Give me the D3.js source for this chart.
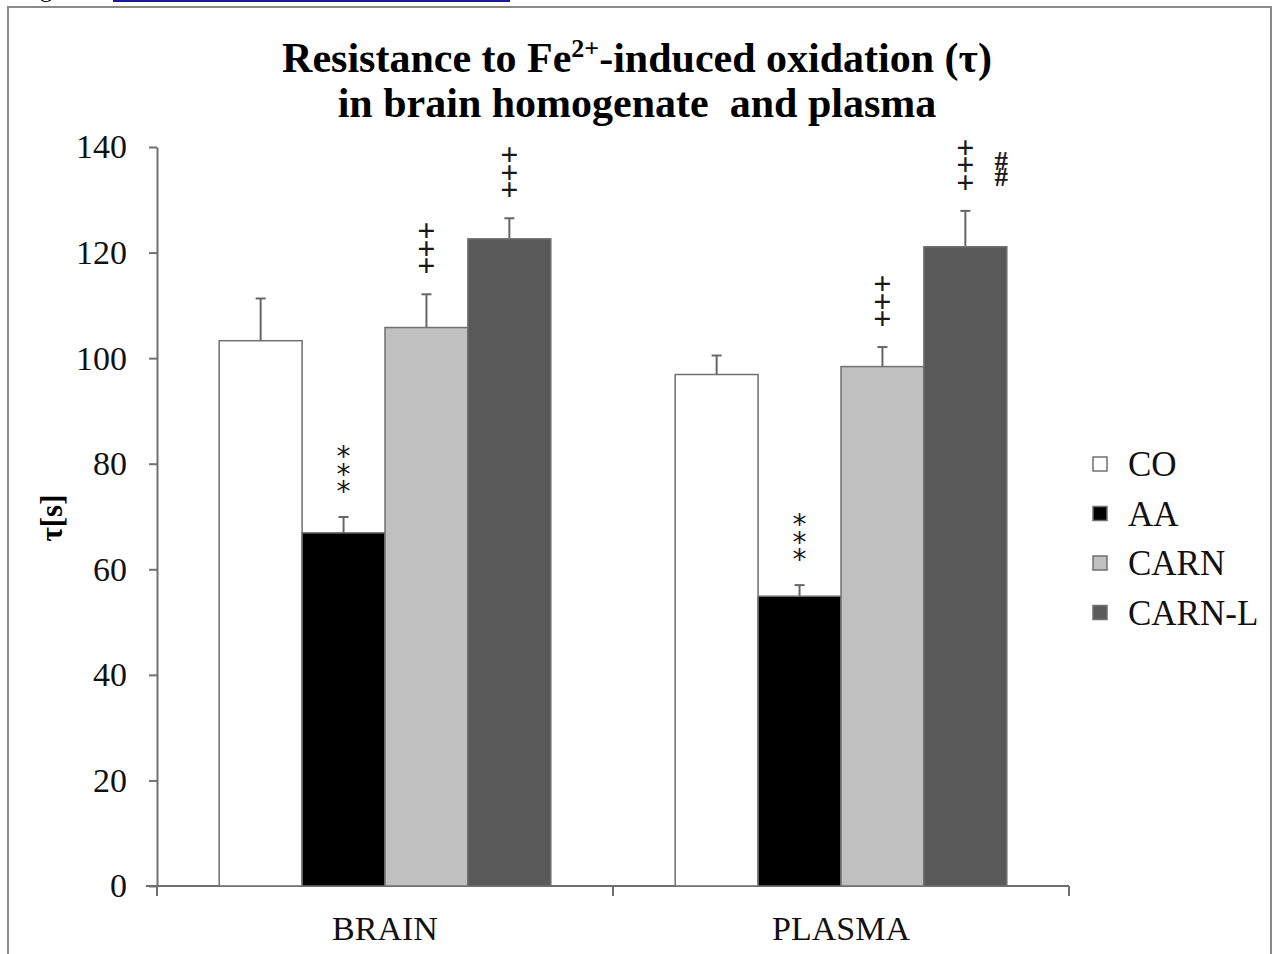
<!DOCTYPE html>
<html lang="en">
  <head>
    <meta charset="UTF-8" />
    <title>Resistance to Fe2+-induced oxidation</title>
    <script src="https://cdn.jsdelivr.net/npm/d3@7/dist/d3.min.js"></script>
    <style>
      html,
      body {
        margin: 0;
        padding: 0;
        background: #fff;
      }
      svg {
        display: block;
        font-family: 'Liberation Serif', 'Times New Roman', serif;
      }
    </style>
  </head>
  <body>
    <svg width="1275" height="954"></svg>
    <script>
      const categories = ['BRAIN', 'PLASMA'];
      const series = ['CO', 'AA', 'CARN', 'CARN-L'];
      const colors = ['#ffffff', '#000000', '#c0c0c0', '#595959'];

      // mean tau values, one array per category (CO, AA, CARN, CARN-L)
      const brainValues = [103.3, 66.9, 105.8, 122.6];
      const plasmaValues = [96.9, 54.9, 98.4, 121.1];
      const brainErrors = [8.0, 3.0, 6.3, 3.9];
      const plasmaErrors = [3.6, 2.1, 3.7, 6.8];

      // significance marks, each inner array is one vertical stack above a bar
      const brainMarks = [[], [['*', '*', '*']], [['+', '+', '+']], [['+', '+', '+']]];
      const plasmaMarks = [[], [['*', '*', '*']], [['+', '+', '+']], [['+', '+', '+'], ['#', '#']]];

      const yTicks = [0, 20, 40, 60, 80, 100, 120, 140];

      const svg = d3.select('svg');

      // outer frame and clipped caption link at top
      svg.append('rect')
        .attr('x', 8).attr('y', 7)
        .attr('width', 1263).attr('height', 960)
        .attr('fill', 'none')
        .attr('stroke', '#8a8a8a')
        .attr('stroke-width', 2);
      svg.append('text')
        .attr('x', 20).attr('y', -3)
        .attr('font-size', 24)
        .text('Fig');
      svg.append('line')
        .attr('x1', 113).attr('x2', 510)
        .attr('y1', 1).attr('y2', 1)
        .attr('stroke', '#1a1a9a')
        .attr('stroke-width', 2);

      const plotLeft = 157, plotRight = 1069, plotTop = 147, plotBottom = 886;

      const x0 = d3.scaleBand().domain(categories).range([plotLeft, plotRight]).padding(0);
      const x1 = d3.scaleBand().domain(series)
        .range([0, x0.bandwidth()])
        .paddingInner(0)
        .paddingOuter(0.75);
      const y = d3.scaleLinear().domain([0, 140]).range([plotBottom, plotTop]);

      // title
      const title = svg.append('text')
        .attr('x', 637).attr('y', 72)
        .attr('text-anchor', 'middle')
        .attr('font-size', 42)
        .attr('font-weight', 'bold');
      title.append('tspan').text('Resistance to Fe');
      title.append('tspan').attr('font-size', 26).attr('dy', -15).text('2+');
      title.append('tspan').attr('dy', 15).text('-induced oxidation (τ)');
      svg.append('text')
        .attr('x', 637).attr('y', 117)
        .attr('text-anchor', 'middle')
        .attr('font-size', 42)
        .attr('font-weight', 'bold')
        .attr('xml:space', 'preserve')
        .text('in brain homogenate  and plasma');

      // y axis
      const yAxis = svg.append('g')
        .attr('transform', `translate(${plotLeft},0)`)
        .call(d3.axisLeft(y).tickValues(yTicks).tickSize(8).tickPadding(22).tickSizeOuter(0));
      yAxis.selectAll('path, line').attr('stroke', '#707070').attr('stroke-width', 2);
      yAxis.selectAll('text')
        .attr('font-family', 'Liberation Serif, serif')
        .attr('font-size', 34)
        .attr('fill', '#111');

      svg.append('text')
        .attr('transform', 'translate(62,518) rotate(-90)')
        .attr('text-anchor', 'middle')
        .attr('font-size', 31)
        .attr('font-weight', 'bold')
        .text('τ[s]');

      // x axis
      const xAxis = svg.append('g')
        .attr('transform', `translate(0,${plotBottom})`)
        .call(d3.axisBottom(x0).tickSize(0).tickPadding(30));
      xAxis.select('.domain').attr('d', `M${plotLeft - 11},0H${plotRight}`)
        .attr('stroke', '#707070').attr('stroke-width', 2);
      xAxis.selectAll('text')
        .attr('font-family', 'Liberation Serif, serif')
        .attr('font-size', 34)
        .attr('fill', '#111');
      xAxis.selectAll('line.sep')
        .data([plotLeft, plotLeft + x0.step(), plotRight])
        .enter()
        .append('line')
        .attr('class', 'sep')
        .attr('x1', d => d).attr('x2', d => d)
        .attr('y1', 0).attr('y2', 10)
        .attr('stroke', '#707070')
        .attr('stroke-width', 2);

      const groups = [
        { cat: 'BRAIN', values: brainValues, errors: brainErrors, marks: brainMarks },
        { cat: 'PLASMA', values: plasmaValues, errors: plasmaErrors, marks: plasmaMarks }
      ];

      groups.forEach(g => {
        const gx = x0(g.cat);
        const rows = series.map((s, i) => ({ s, i, v: g.values[i], e: g.errors[i], m: g.marks[i] }));
        const cg = svg.append('g').attr('transform', `translate(${gx},0)`);

        // error bars (drawn first, bars cover the lower half)
        cg.selectAll('line.err')
          .data(rows)
          .enter()
          .append('line')
          .attr('class', 'err')
          .attr('x1', d => x1(d.s) + x1.bandwidth() / 2)
          .attr('x2', d => x1(d.s) + x1.bandwidth() / 2)
          .attr('y1', d => y(d.v))
          .attr('y2', d => y(d.v + d.e))
          .attr('stroke', '#666')
          .attr('stroke-width', 2);
        cg.selectAll('line.cap')
          .data(rows)
          .enter()
          .append('line')
          .attr('class', 'cap')
          .attr('x1', d => x1(d.s) + x1.bandwidth() / 2 - 5)
          .attr('x2', d => x1(d.s) + x1.bandwidth() / 2 + 5)
          .attr('y1', d => y(d.v + d.e))
          .attr('y2', d => y(d.v + d.e))
          .attr('stroke', '#666')
          .attr('stroke-width', 2);

        cg.selectAll('rect.bar')
          .data(rows)
          .enter()
          .append('rect')
          .attr('class', 'bar')
          .attr('x', d => x1(d.s))
          .attr('y', d => y(d.v))
          .attr('width', x1.bandwidth())
          .attr('height', d => y(0) - y(d.v))
          .attr('fill', d => colors[d.i])
          .attr('stroke', '#707070')
          .attr('stroke-width', 1.5);

        // significance marks: one text per stack, characters stacked with tspans
        rows.forEach(d => {
          const cx = x1(d.s) + x1.bandwidth() / 2;
          const capY = y(d.v + d.e);
          d.m.forEach((stack, col) => {
            const ch = stack[0];
            const isStar = ch === '*';
            const isHash = ch === '#';
            const step = isHash ? 16 : 17.5;
            const size = isStar ? 28 : isHash ? 27 : 32;
            const firstBaseline = isStar ? capY - 51 : isHash ? capY - 41 : capY - 53;
            const t = cg.append('text')
              .attr('text-anchor', 'middle')
              .attr('font-size', size)
              .attr('font-weight', isStar ? 'normal' : 'bold')
              .attr('font-family', isStar ? 'DejaVu Sans, sans-serif' : 'Liberation Serif, serif')
              .attr('fill', '#1a1a1a');
            stack.forEach((c, k) => {
              t.append('tspan')
                .attr('x', cx + col * 36)
                .attr(k === 0 ? 'y' : 'dy', k === 0 ? firstBaseline : step)
                .text(c);
            });
          });
        });
      });

      // legend
      const legend = svg.append('g').attr('transform', 'translate(1093,464)');
      const items = legend.selectAll('g')
        .data(series)
        .enter()
        .append('g')
        .attr('transform', (d, i) => `translate(0,${i * 49.5})`);
      items.append('rect')
        .attr('x', 0).attr('y', -7)
        .attr('width', 14).attr('height', 14)
        .attr('fill', (d, i) => colors[i])
        .attr('stroke', '#707070')
        .attr('stroke-width', 1.5);
      items.append('text')
        .attr('x', 35).attr('y', 12)
        .attr('font-size', 35)
        .attr('fill', '#111')
        .text(d => d);
    </script>
  </body>
</html>
